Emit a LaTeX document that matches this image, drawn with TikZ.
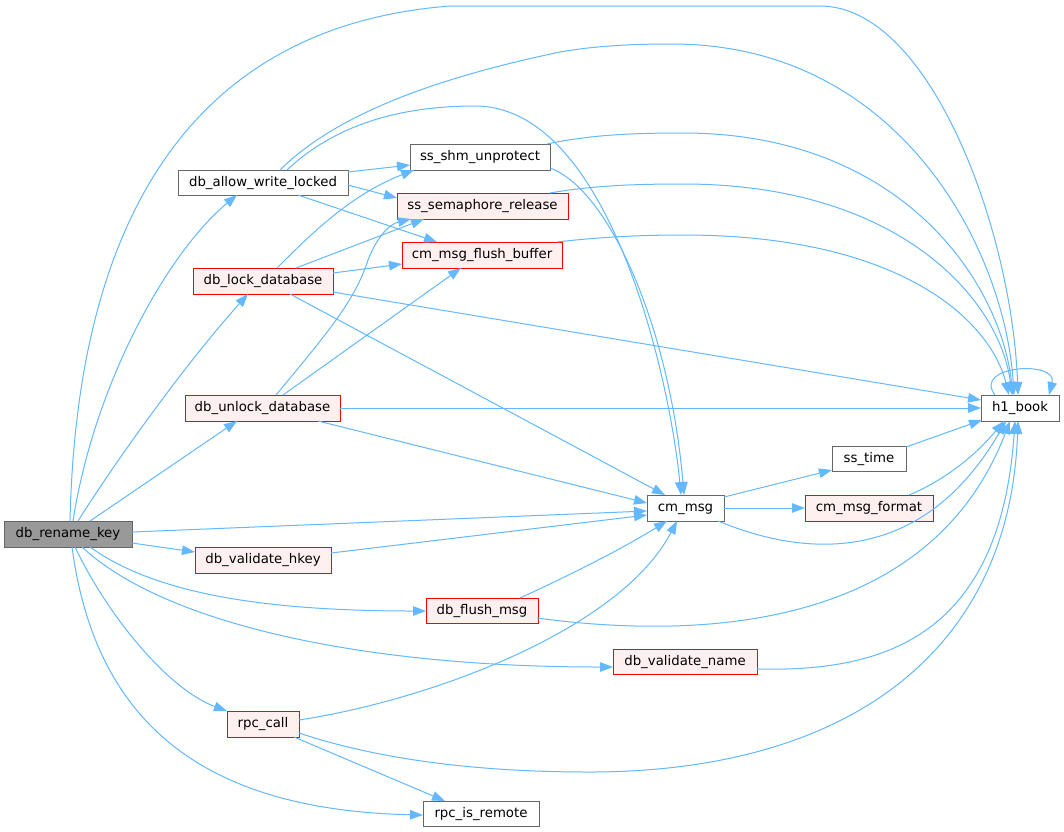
\documentclass[tikz,border=0pt]{standalone}
\usepackage{fontspec}
\setmainfont{DejaVu Sans}
\usetikzlibrary{arrows.meta,calc}
\definecolor{edgec}{HTML}{63B8FF}
\definecolor{redb}{HTML}{FF0000}
\definecolor{redf}{HTML}{FFF0F0}
\definecolor{grayb}{HTML}{666666}
\definecolor{mainf}{HTML}{999999}
\begin{document}
\begin{tikzpicture}[x=1pt,y=-1pt,font=\fontsize{13.3}{16}\selectfont,
  box/.style={draw, line width=1pt, anchor=north west, minimum height=26pt, inner sep=0pt, outer sep=0pt, text height=10pt, text depth=3pt},
  plain/.style={box, draw=grayb, fill=white},
  hot/.style={box, draw=redb, fill=redf},
  root/.style={box, draw=grayb, fill=mainf},
  e/.style={draw=edgec, line width=1pt, -{Triangle[length=13pt,width=9.5pt]}}]
\useasboundingbox (0,0) rectangle (1064,831);
\fill[white] (0,0) rectangle (1064,831);
% nodes
\node[root, minimum width=128pt] (rk) at (4,521) {db\_rename\_key};
\node[plain, minimum width=170pt, minimum height=25pt] (awl) at (178,170) {db\_allow\_write\_locked};
\node[plain, minimum width=140pt] (shm) at (410,144) {ss\_shm\_unprotect};
\node[hot, minimum width=171pt] (sem) at (397,193) {ss\_semaphore\_release};
\node[hot, minimum width=160pt] (fb) at (402,242) {cm\_msg\_flush\_buffer};
\node[hot, minimum width=140pt] (lock) at (193,268) {db\_lock\_database};
\node[hot, minimum width=155pt] (unlock) at (185,395) {db\_unlock\_database};
\node[plain, minimum width=77pt] (cm) at (647,495) {cm\_msg};
\node[plain, minimum width=74pt, minimum height=25pt] (sst) at (832,446) {ss\_time};
\node[hot, minimum width=128pt] (fmt) at (805,495) {cm\_msg\_format};
\node[plain, minimum width=78pt] (h1) at (981,395) {h1\_book};
\node[hot, minimum width=136pt] (vh) at (195,547) {db\_validate\_hkey};
\node[hot, minimum width=112pt, minimum height=25pt] (fm) at (426,598) {db\_flush\_msg};
\node[hot, minimum width=144pt, minimum height=25pt] (vn) at (613,649) {db\_validate\_name};
\node[hot, minimum width=72pt] (rpc) at (227,711) {rpc\_call};
\node[plain, minimum width=116pt, minimum height=25pt] (rir) at (423,801) {rpc\_is\_remote};

% edges from db_rename_key
\draw[e] ($(rk.north west)+(66,0)$) .. controls (75,300) and (140,30) .. (450,6) -- (820,6) .. controls (930,6) and (1012,230) .. ($(h1.north west)+(37,0)$);
\draw[e] ($(rk.north west)+(69,0)$) .. controls (95,380) and (170,250) .. ($(awl.north west)+(59,25)$);
\draw[e] ($(rk.north west)+(74,0)$) .. controls (110,470) and (180,370) .. ($(lock.north west)+(55,26)$);
\draw[e] ($(rk.north west)+(86,0)$) -- ($(unlock.north west)+(52,26)$);
\draw[e] ($(rk.north west)+(128,11)$) -- ($(cm.north west)+(0,16)$);
\draw[e] ($(rk.north west)+(128,22)$) -- ($(vh.north west)+(0,5)$);
\draw[e] ($(rk.north west)+(86,26)$) .. controls (150,590) and (250,611) .. ($(fm.north west)+(0,13)$);
\draw[e] ($(rk.north west)+(78,26)$) .. controls (160,620) and (350,667) .. ($(vn.north west)+(0,18)$);
\draw[e] ($(rk.north west)+(71,26)$) .. controls (110,620) and (170,690) .. ($(rpc.north west)+(0,0)$);
\draw[e] ($(rk.north west)+(68,26)$) .. controls (95,720) and (200,810) .. ($(rir.north west)+(0,14)$);

% db_allow_write_locked
\draw[e] ($(awl.north west)+(102,0)$) .. controls (340,110) and (450,75) .. (560,52) .. controls (600,45) and (640,44) .. (672,44) .. controls (900,44) and (1005,250) .. ($(h1.north west)+(33,0)$);
\draw[e] ($(awl.north west)+(109,0)$) .. controls (340,120) and (410,106) .. (475,106) .. controls (610,106) and (670,380) .. ($(cm.north west)+(34,0)$);
\draw[e] ($(awl.north west)+(170,2)$) -- ($(shm.north west)+(0,21)$);
\draw[e] ($(awl.north west)+(170,15)$) -- ($(sem.north west)+(0,5)$);
\draw[e] ($(awl.north west)+(120,25)$) -- ($(fb.north west)+(35,0)$);

% ss_shm_unprotect
\draw[e] ($(shm.north west)+(137,0)$) .. controls (590,135) and (630,133) .. (683,133) .. controls (900,133) and (1000,280) .. ($(h1.north west)+(32,0)$);
\draw[e] ($(shm.north west)+(140,24)$) .. controls (610,190) and (670,330) .. ($(cm.north west)+(37,0)$);

% ss_semaphore_release, cm_msg_flush_buffer
\draw[e] ($(sem.north west)+(153,0)$) .. controls (590,186) and (630,184) .. (683,184) .. controls (900,184) and (1000,300) .. ($(h1.north west)+(31,0)$);
\draw[e] ($(fb.north west)+(155,0)$) .. controls (600,237) and (640,235) .. (683,235) .. controls (900,235) and (990,320) .. ($(h1.north west)+(28,0)$);

% db_lock_database
\draw[e] ($(lock.north west)+(84,0)$) .. controls (310,235) and (350,195) .. ($(shm.north west)+(4,26)$);
\draw[e] ($(lock.north west)+(103,0)$) -- ($(sem.north west)+(27,26)$);
\draw[e] ($(lock.north west)+(140,5)$) -- ($(fb.north west)+(0,22)$);
\draw[e] ($(lock.north west)+(140,24)$) -- ($(h1.north west)+(0,5)$);
\draw[e] ($(lock.north west)+(97,26)$) -- ($(cm.north west)+(18,0)$);

% db_unlock_database
\draw[e] ($(unlock.north west)+(91,0)$) .. controls (330,330) and (355,300) .. (368,260) .. controls (378,235) and (390,224) .. ($(sem.north west)+(14,26)$);
\draw[e] ($(unlock.north west)+(98,0)$) -- ($(fb.north west)+(59,26)$);
\draw[e] (unlock.east) -- ($(h1.north west)+(0,13)$);
\draw[e] ($(unlock.north west)+(133,26)$) -- ($(cm.north west)+(0,8)$);

% others into cm_msg
\draw[e] ($(vh.north west)+(136,6)$) -- ($(cm.north west)+(0,20)$);
\draw[e] ($(fm.north west)+(94,0)$) .. controls (570,575) and (620,550) .. ($(cm.north west)+(20,26)$);
\draw[e] ($(rpc.north west)+(72,9)$) .. controls (430,700) and (620,630) .. ($(cm.north west)+(30,26)$);

% rpc_call
\draw[e] ($(rpc.north west)+(67,26)$) -- ($(rir.north west)+(22,0)$);
\draw[e] ($(rpc.north west)+(72,22)$) .. controls (380,760) and (480,772) .. (589,772) .. controls (850,772) and (1010,650) .. ($(h1.north west)+(37,26)$);

% cm_msg outgoing
\draw[e] ($(cm.north west)+(77,2)$) -- ($(sst.north west)+(0,24)$);
\draw[e] (cm.east) -- (fmt.west);
\draw[e] ($(cm.north west)+(71,26)$) .. controls (800,555) and (920,570) .. ($(h1.north west)+(25,26)$);

% into h1_book from right side
\draw[e] ($(fm.north west)+(111,20)$) .. controls (700,640) and (930,630) .. ($(h1.north west)+(29,26)$);
\draw[e] ($(vn.north west)+(144,20)$) .. controls (880,672) and (1000,640) .. ($(h1.north west)+(34,26)$);
\draw[e] ($(fmt.north west)+(104,0)$) .. controls (950,478) and (980,450) .. ($(h1.north west)+(23,26)$);
\draw[e] ($(sst.north west)+(74,1)$) -- ($(h1.north west)+(1,25)$);
\draw[e] ($(h1.north west)+(14,0)$) .. controls (972,365) and (1058,360) .. ($(h1.north west)+(68,0)$);
\end{tikzpicture}
\end{document}
